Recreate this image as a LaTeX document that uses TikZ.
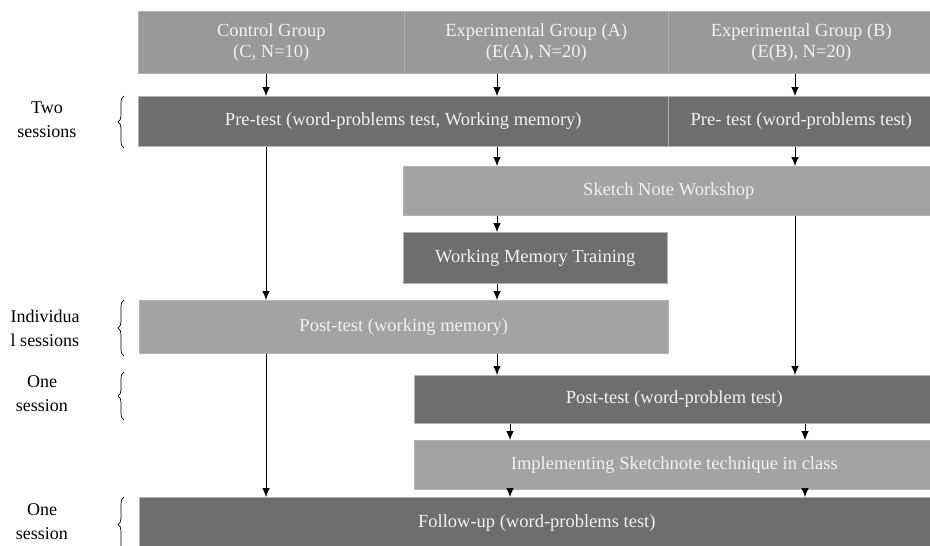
\documentclass[tikz,border=0pt]{standalone}
\usepackage{fontspec}
\setmainfont{Liberation Serif}
\usetikzlibrary{arrows.meta,decorations.pathreplacing}

\begin{document}
\begin{tikzpicture}[x=1pt,y=1pt,
    >={Latex[length=9pt,width=7.5pt]},
    flow/.style={->,line width=0.8pt},
    box/.style={anchor=north west,inner sep=0pt,draw=black!30,line width=0.6pt,
      text=white!95!black,font=\fontsize{18.5}{21}\selectfont,align=center},
    groupbox/.style={box,fill=black!40},
    darkbox/.style={box,fill=black!57},
    lightbox/.style={box,fill=black!36},
    brc/.style={decorate,decoration={brace,amplitude=6pt},line width=0.7pt},
    lbl/.style={font=\fontsize{18}{24}\selectfont,align=center}]

  \useasboundingbox (0,0) rectangle (930,-546);

  % columns of the arrows
  \coordinate (colC) at (266,0);
  \coordinate (colA) at (497,0);
  \coordinate (colB) at (795,0);
  \coordinate (colAl) at (510,0);
  \coordinate (colBl) at (805,0);

  % groups
  \node[groupbox,minimum width=266,minimum height=62] (ctrl) at (138,-11) {Control Group\\(C, N=10)};
  \node[groupbox,minimum width=264,minimum height=62] (expA) at (404,-11) {Experimental Group (A)\\(E(A), N=20)};
  \node[groupbox,minimum width=266,minimum height=62] (expB) at (668,-11) {Experimental Group (B)\\(E(B), N=20)};

  % steps
  \node[darkbox,minimum width=530,minimum height=50] (preA) at (138,-96) {Pre-test (word-problems test, Working memory)};
  \node[darkbox,minimum width=266,minimum height=50] (preB) at (668,-96) {Pre- test (word-problems test)};
  \node[lightbox,minimum width=531,minimum height=49] (sketch) at (403,-166) {Sketch Note Workshop};
  \node[darkbox,minimum width=264,minimum height=51] (wmt) at (403,-232) {Working Memory Training};
  \node[lightbox,minimum width=529,minimum height=53] (postwm) at (139,-300) {Post-test (working memory)};
  \node[darkbox,minimum width=520,minimum height=48] (postwp) at (414,-375) {Post-test (word-problem test)};
  \node[lightbox,minimum width=520,minimum height=49] (impl) at (414,-440) {Implementing Sketchnote technique in class};
  \node[darkbox,minimum width=795,minimum height=52] (follow) at (139,-497) {Follow-up (word-problems test)};

  % arrows
  \draw[flow] (ctrl.south -| colC) -- (preA.north -| colC);
  \draw[flow] (expA.south -| colA) -- (preA.north -| colA);
  \draw[flow] (expB.south -| colB) -- (preB.north -| colB);
  \draw[flow] (preA.south -| colC) -- (postwm.north -| colC);
  \draw[flow] (preA.south -| colA) -- (sketch.north -| colA);
  \draw[flow] (preB.south -| colB) -- (sketch.north -| colB);
  \draw[flow] (sketch.south -| colA) -- (wmt.north -| colA);
  \draw[flow] (sketch.south -| colB) -- (postwp.north -| colB);
  \draw[flow] (wmt.south -| colA) -- (postwm.north -| colA);
  \draw[flow] (postwm.south -| colA) -- (postwp.north -| colA);
  \draw[flow] (postwm.south -| colC) -- (follow.north -| colC);
  \foreach \c in {colAl,colBl}{
    \draw[flow] (postwp.south -| \c) -- (impl.north -| \c);
    \draw[flow] (impl.south -| \c) -- (follow.north -| \c);
  }

  % sessions
  \draw[brc] (124,-148) -- (124,-96);
  \node[lbl] (twoses) at (47,-120) {Two\\sessions};
  \draw[brc] (124,-356) -- (124,-300);
  \node[lbl] (indses) at (45,-328) {Individua\\l sessions};
  \draw[brc] (124,-420) -- (124,-372);
  \node[lbl] (oneses) at (42,-394) {One\\session};
  \draw[brc] (124,-552) -- (124,-497);
  \node[lbl] (folses) at (42,-522) {One\\session};
\end{tikzpicture}
\end{document}
